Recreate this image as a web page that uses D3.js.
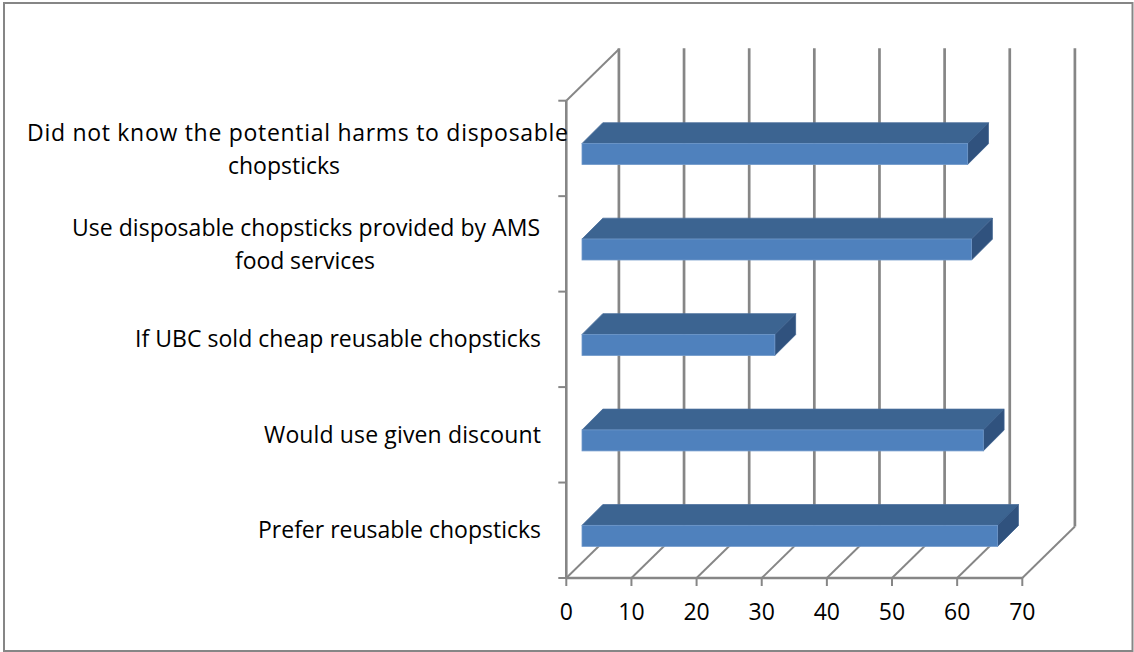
<!DOCTYPE html>
<html><head><meta charset="utf-8">
<script src="https://cdn.jsdelivr.net/npm/d3@7"></script>
<style>html,body{margin:0;padding:0;background:#fff}svg{display:block}text{font-family:"Open Sans",Lato,sans-serif;fill:#000;font-variant-ligatures:none}</style>
</head><body><svg id="c" width="1134" height="652"></svg>
<script>
const categories=["Did not know the potential harms to disposable chopsticks","Use disposable chopsticks provided by AMS food services","If UBC sold cheap reusable chopsticks","Would use given discount","Prefer reusable chopsticks"];
const labelLines=[["Did not know the potential harms to disposable","chopsticks"],["Use disposable chopsticks provided by AMS","food services"],["If UBC sold cheap reusable chopsticks"],["Would use given discount"],["Prefer reusable chopsticks"]];
const values=[59.2,59.8,29.6,61.6,63.8];
const xTicks=[0,10,20,30,40,50,60,70];

const svg=d3.select("#c");
const x=d3.scaleLinear().domain([0,70]).range([566.3,1022.3]);
const y=d3.scaleBand().domain(categories).range([100.7,578]);
const depth={x:52.6,y:-51.5};
const barInset=15.7, barDepth=20.8, barH=21, barOffset=5.6;
const axisCol="#868686";

svg.append("rect").attr("x",4).attr("y",3).attr("width",1128.5).attr("height",648).attr("fill","#fff").attr("stroke","#868686").attr("stroke-width",2);

const g=svg.append("g");
g.selectAll("line.grid").data(xTicks).join("line").attr("class","grid")
 .attr("x1",d=>x(d)+depth.x).attr("x2",d=>x(d)+depth.x)
 .attr("y1",y.range()[0]+depth.y-1).attr("y2",y.range()[1]+depth.y)
 .attr("stroke",axisCol).attr("stroke-width",2.7);
g.selectAll("line.floor").data(xTicks).join("line").attr("class","floor")
 .attr("x1",d=>x(d)).attr("x2",d=>x(d)+depth.x)
 .attr("y1",y.range()[1]).attr("y2",y.range()[1]+depth.y)
 .attr("stroke",axisCol).attr("stroke-width",1.9);
g.append("line").attr("x1",x(0)).attr("x2",x(0)+depth.x).attr("y1",y.range()[0]).attr("y2",y.range()[0]+depth.y).attr("stroke",axisCol).attr("stroke-width",1.9);
g.append("line").attr("x1",x(0)).attr("x2",x(0)).attr("y1",y.range()[0]).attr("y2",y.range()[1]).attr("stroke",axisCol).attr("stroke-width",2.6);
g.append("line").attr("x1",x(0)).attr("x2",x(70)).attr("y1",y.range()[1]).attr("y2",y.range()[1]).attr("stroke",axisCol).attr("stroke-width",2.6);
g.selectAll("line.xt").data(xTicks).join("line").attr("class","xt").attr("x1",d=>x(d)).attr("x2",d=>x(d)).attr("y1",y.range()[1]).attr("y2",y.range()[1]+8).attr("stroke",axisCol).attr("stroke-width",2);
const catEdges=categories.map(c=>y(c)).concat([y.range()[1]]);
g.selectAll("line.yt").data(catEdges).join("line").attr("class","yt").attr("x1",x(0)-8).attr("x2",x(0)).attr("y1",d=>d).attr("y2",d=>d).attr("stroke",axisCol).attr("stroke-width",2);

const bars=g.selectAll("g.bar").data(categories.map((c,i)=>({c,v:values[i]}))).join("g").attr("class","bar");
const xv=v=>x(v)+barInset;
const yf=d=>y(d.c)+y.bandwidth()/2+barOffset-barH/2;
bars.append("path").attr("fill","#3C6491").attr("stroke","#4A6F9C").attr("stroke-width",.8)
 .attr("d",d=>{const a=xv(0),b=xv(d.v),t=yf(d);return `M${a},${t}L${a+barDepth},${t-barDepth}L${b+barDepth},${t-barDepth}L${b},${t}Z`;});
bars.append("path").attr("fill","#30527E").attr("stroke","#3E628F").attr("stroke-width",.8)
 .attr("d",d=>{const b=xv(d.v),t=yf(d);return `M${b},${t}L${b+barDepth},${t-barDepth}L${b+barDepth},${t-barDepth+barH}L${b},${t+barH}Z`;});
bars.append("rect").attr("fill","#4F81BD").attr("stroke","#6F98CA").attr("stroke-width",.8)
 .attr("x",xv(0)).attr("y",yf).attr("width",d=>xv(d.v)-xv(0)).attr("height",barH);

const fs=23;
g.selectAll("text.xl").data(xTicks).join("text").attr("class","xl").attr("x",d=>x(d)).attr("y",620).attr("text-anchor","middle").attr("font-size",23).text(d=>d);
const labelCx=[[297.5,284],[306,305],[338],[402.5],[399.5]];
const labelW=[[541,112],[468,140],[406],[277],[283]];
labelLines.forEach((lines,i)=>{
  const cy=y(categories[i])+y.bandwidth()/2;
  lines.forEach((l,j)=>{
    svg.append("text").attr("x",labelCx[i][j]).attr("y",cy+(j-(lines.length-1)/2)*33+(lines.length>1?9:8))
      .attr("text-anchor","middle").attr("font-size",fs)
      .attr("textLength",labelW[i][j]).attr("lengthAdjust","spacing").text(l);
  });
});
</script></body></html>
